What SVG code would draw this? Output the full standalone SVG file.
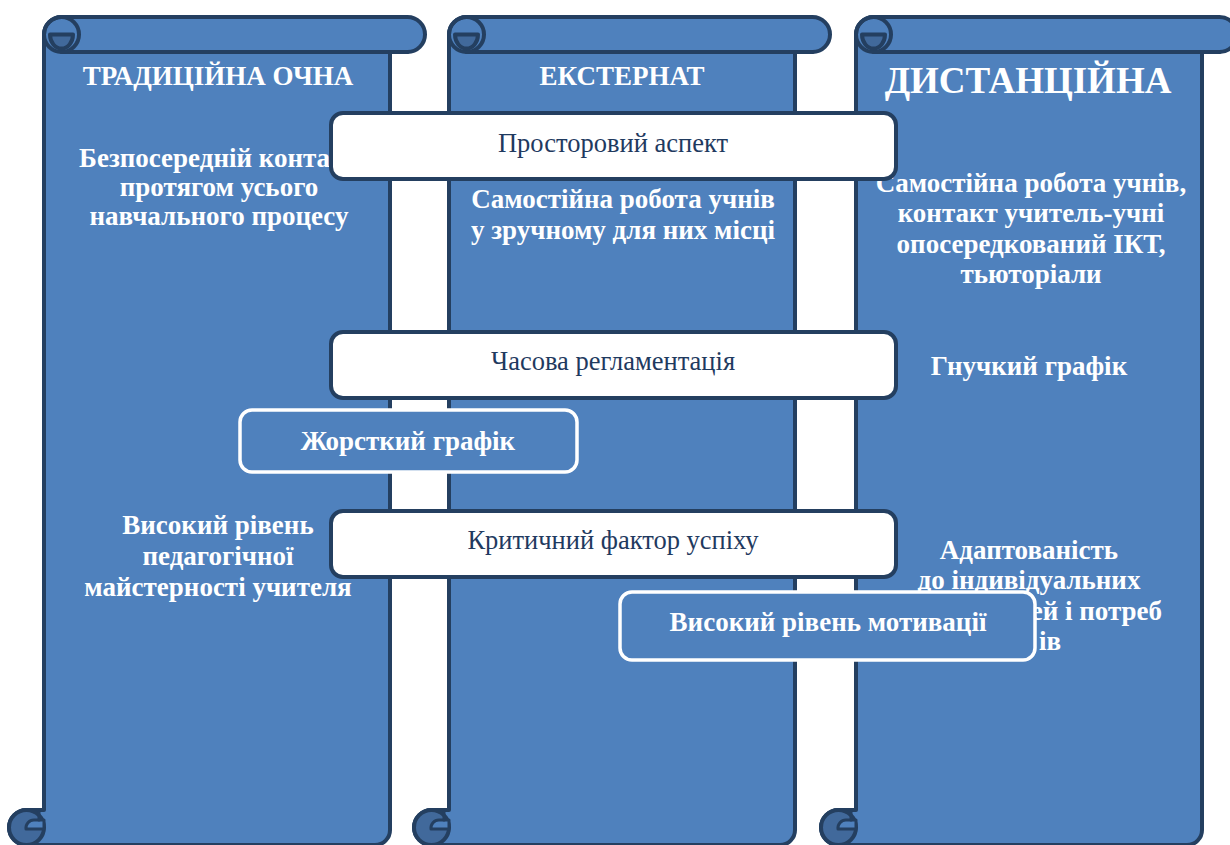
<svg xmlns="http://www.w3.org/2000/svg" xmlns:xlink="http://www.w3.org/1999/xlink" width="1230" height="845" viewBox="0 0 1230 845">
  <style>
    .sc-main { fill: #4F81BD; stroke: #243F60; stroke-width: 4; stroke-linejoin: round; }
    .sc-line { fill: none; stroke: #243F60; stroke-width: 4; stroke-linecap: round; }
    .sc-dark { fill: #41699B; stroke: #243F60; stroke-width: 4; stroke-linejoin: round; }
    .sc-lite { fill: #4F81BD; stroke: #243F60; stroke-width: 3; stroke-linejoin: round; }
    .wbox { fill: #FFFFFF; stroke: #243F60; stroke-width: 4; }
    .bbox { fill: #4F81BD; stroke: #FFFFFF; stroke-width: 3.5; }
    .hdr { font-family: "Liberation Serif", "Times New Roman", serif; font-weight: bold; font-size: 27px; fill: #FFFFFF; text-anchor: middle; }
    .hdr-big { font-size: 37px; }
    .body { font-family: "Liberation Serif", "Times New Roman", serif; font-weight: bold; font-size: 27px; fill: #FFFFFF; text-anchor: middle; }
    .end { text-anchor: end; }
    .lbl { font-family: "Liberation Serif", "Times New Roman", serif; font-size: 26.5px; fill: #1F3A5F; text-anchor: middle; }
  </style>
  <defs>
    <g id="scroll">
      <path class="sc-main" d="M 61.5,17 H 407.5 A 17.5 17.5 0 0 1 407.5,52 H 390 V 830 A 15 15 0 0 1 375,845 H 26.5 A 17.5 17.5 0 0 1 26.5,810 H 44 V 34.5 A 17.5 17.5 0 0 1 61.5,17 Z"/>
      <path class="sc-line" d="M 61.5,52 H 407.5"/>
      <circle class="sc-line" cx="61.5" cy="34.5" r="17.5"/>
      <path class="sc-dark" d="M 50,34.5 H 73 A 11.5 14 0 0 1 50,34.5 Z"/>
      <circle class="sc-dark" cx="26.5" cy="827.5" r="17.5"/>
      <path class="sc-lite" d="M 34,820 H 44 V 829 H 26 A 8 8 0 0 1 34,820 Z"/>
      <path class="sc-line" d="M 39,812 V 820" style="stroke-width:3"/>
    </g>
  </defs>

  <g id="scroll-traditional">
    <use xlink:href="#scroll" href="#scroll"/>
    <text class="hdr" x="218" y="85">ТРАДИЦІЙНА ОЧНА</text>
    <text class="body" x="219" y="167">Безпосередній контакт</text>
    <text class="body" x="219" y="196">протягом усього</text>
    <text class="body" x="219" y="225">навчального процесу</text>
    <text class="body" x="218" y="534">Високий рівень</text>
    <text class="body" x="218" y="565">педагогічної</text>
    <text class="body" x="218" y="596">майстерності учителя</text>
  </g>

  <g id="scroll-external">
    <use xlink:href="#scroll" href="#scroll" transform="translate(405,0)"/>
    <text class="hdr" x="622" y="85">ЕКСТЕРНАТ</text>
    <text class="body" x="623" y="208">Самостійна робота учнів</text>
    <text class="body" x="623" y="239">у зручному для них місці</text>
  </g>

  <g id="scroll-distance">
    <use xlink:href="#scroll" href="#scroll" transform="translate(812,0)"/>
    <text class="hdr hdr-big" x="1028" y="93">ДИСТАНЦІЙНА</text>
    <text class="body" x="1031" y="192">Самостійна робота учнів,</text>
    <text class="body" x="1031" y="222">контакт учитель-учні</text>
    <text class="body" x="1031" y="253">опосередкований ІКТ,</text>
    <text class="body" x="1031" y="283">тьюторіали</text>
    <text class="body" x="1029" y="375">Гнучкий графік</text>
    <text class="body" x="1029" y="559">Адаптованість</text>
    <text class="body" x="1029" y="589">до індивідуальних</text>
    <text class="body end" x="1162" y="620">ей і потреб</text>
    <text class="body end" x="1061" y="650">ів</text>
  </g>

  <g id="connectors"></g>

  <g id="box-spatial">
    <rect class="wbox" x="331" y="113" width="565" height="66" rx="12"/>
    <text class="lbl" x="613" y="152">Просторовий аспект</text>
  </g>
  <g id="box-time">
    <rect class="wbox" x="331" y="332" width="565" height="66" rx="12"/>
    <text class="lbl" x="613" y="370">Часова регламентація</text>
  </g>
  <g id="box-rigid">
    <rect class="bbox" x="240" y="410" width="337" height="62" rx="12"/>
    <text class="body" x="408" y="450">Жорсткий графік</text>
  </g>
  <g id="box-success">
    <rect class="wbox" x="331" y="511" width="565" height="66" rx="12"/>
    <text class="lbl" x="613" y="549">Критичний фактор успіху</text>
  </g>
  <g id="box-motivation">
    <rect class="bbox" x="620" y="592" width="415" height="68" rx="12"/>
    <text class="body" x="828" y="631">Високий рівень мотивації</text>
  </g>
</svg>
